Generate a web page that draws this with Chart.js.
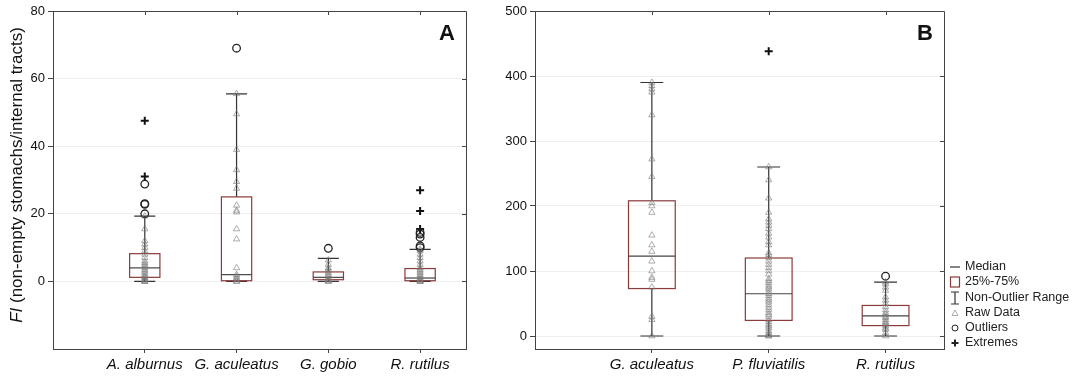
<!DOCTYPE html>
<html>
<head>
<meta charset="utf-8">
<script src="https://cdn.jsdelivr.net/npm/chart.js@4/dist/chart.umd.min.js"></script>
<style>
  body { margin: 0; background: #fff; }
  #wrapA { position: absolute; left: 0; top: 0; width: 480px; height: 377px; }
  #wrapB { position: absolute; left: 480px; top: 0; width: 601px; height: 377px; }
</style>
</head>
<body>
<div id="wrapA"><canvas id="chartA" width="480" height="377"></canvas></div>
<div id="wrapB"><canvas id="chartB" width="601" height="377"></canvas></div>
<script>
// Panel A - FI (non-empty stomachs / internal tracts)
const aCategories = ['A. alburnus', 'G. aculeatus', 'G. gobio', 'R. rutilus'];
const aMin = [0, 0, 0, 0];
const aQ1 = [1.2, 0.2, 0.5, 0.2];
const aMedian = [4, 2, 1.2, 1];
const aQ3 = [8.2, 25, 2.8, 3.8];
const aMax = [19.3, 55.5, 6.8, 9.5];
const aRaw = [
    [0, 0, 0, 0.3, 0.5, 1, 1.2, 1.5, 2, 2.5, 3, 3.5, 4, 4.5, 5, 5.5, 6, 7, 8, 9, 10, 11, 12, 15.5, 19.3],
    [0, 0, 0.5, 1, 1.5, 2, 4, 12.5, 15.5, 20.5, 21, 22.5, 27.5, 29.5, 33, 39, 49.5, 55.5],
    [0, 0, 0.3, 0.5, 1, 1.5, 2, 2.5, 3, 3.5, 4, 5, 6.3],
    [0, 0, 0, 0.3, 0.5, 1, 1.5, 2, 2.5, 3, 3.5, 4, 5, 6, 7, 8, 9, 9.5]
];
const aOutliers = [[20, 22.8, 23, 28.8], [69], [9.8], [10, 10.5, 13, 14, 14.5]];
const aExtremes = [[31, 47.5], [], [], [15.5, 20.8, 27]];
const aYTicks = [0, 20, 40, 60, 80];

// Panel B
const bCategories = ['G. aculeatus', 'P. fluviatilis', 'R. rutilus'];
const bMin = [0, 0, 0];
const bQ1 = [73, 24, 16];
const bMedian = [123, 65, 31];
const bQ3 = [208, 120, 47];
const bMax = [390, 260, 83];
const bRaw = [
    [0, 25, 30, 75, 87, 90, 100, 115, 130, 140, 155, 190, 200, 205, 245, 272, 340, 375, 380, 385, 390],
    [0, 0, 2, 5, 8, 12, 15, 18, 22, 25, 30, 33, 36, 40, 44, 48, 52, 55, 58, 62, 65, 68, 72, 75, 78, 82, 85, 88, 95,
     100, 105, 110, 115, 120, 125, 128, 140, 145, 152, 158, 165, 170, 175, 180, 190, 212, 240, 260],
    [0, 5, 10, 12, 15, 18, 20, 22, 25, 28, 30, 33, 36, 40, 45, 50, 55, 60, 70, 75, 80, 83]
];
const bOutliers = [[], [], [92]];
const bExtremes = [[], [438], []];
const bYTicks = [0, 100, 200, 300, 400, 500];

Chart.defaults.font.family = 'Arial, "Liberation Sans", sans-serif';
Chart.defaults.color = '#222';

function toPoints(lists) {
    return lists.flatMap((vals, i) => vals.map(v => ({ x: i + 1, y: v })));
}

function boxPlugin(stats, half, capHalf, letter, yTitle, legend) {
    return {
        id: 'boxes',
        beforeDatasetsDraw(chart) {
            const { ctx, scales: { x, y } } = chart;
            ctx.save();
            stats.min.forEach((mn, i) => {
                const c = i + 1;
                const cx = x.getPixelForValue(c);
                const l = x.getPixelForValue(c - half), r = x.getPixelForValue(c + half);
                const cl = x.getPixelForValue(c - capHalf), cr = x.getPixelForValue(c + capHalf);
                const pMin = y.getPixelForValue(mn), pMax = y.getPixelForValue(stats.max[i]);
                const pQ1 = y.getPixelForValue(stats.q1[i]), pQ3 = y.getPixelForValue(stats.q3[i]);
                const pMed = y.getPixelForValue(stats.median[i]);
                // whiskers
                ctx.strokeStyle = '#333';
                ctx.lineWidth = 1.2;
                ctx.beginPath();
                ctx.moveTo(cx, pMax); ctx.lineTo(cx, pQ3);
                ctx.moveTo(cx, pQ1); ctx.lineTo(cx, pMin);
                ctx.moveTo(cl, pMax); ctx.lineTo(cr, pMax);
                ctx.moveTo(cl, pMin); ctx.lineTo(cr, pMin);
                ctx.stroke();
                // box
                ctx.strokeStyle = '#8b3a3a';
                ctx.strokeRect(l, pQ3, r - l, pQ1 - pQ3);
                // median
                ctx.strokeStyle = '#444';
                ctx.beginPath();
                ctx.moveTo(l, pMed); ctx.lineTo(r, pMed);
                ctx.stroke();
            });
            ctx.restore();
        },
        afterDraw(chart) {
            const { ctx, chartArea: a, scales: { x, y } } = chart;
            ctx.save();
            // top and right frame with inner ticks
            ctx.strokeStyle = '#444';
            ctx.lineWidth = 1;
            ctx.beginPath();
            ctx.moveTo(a.left, a.top + 0.5); ctx.lineTo(a.right + 0.5, a.top + 0.5); ctx.lineTo(a.right + 0.5, a.bottom);
            x.ticks.forEach(t => {
                const px = Math.round(x.getPixelForValue(t.value)) + 0.5;
                ctx.moveTo(px, a.top); ctx.lineTo(px, a.top + 4);
            });
            y.ticks.forEach(t => {
                const py = Math.round(y.getPixelForValue(t.value)) + 0.5;
                ctx.moveTo(a.right, py); ctx.lineTo(a.right - 4, py);
            });
            ctx.stroke();
            // panel letter
            ctx.fillStyle = '#111';
            ctx.font = 'bold 22px Arial, "Liberation Sans", sans-serif';
            ctx.textAlign = 'center';
            ctx.textBaseline = 'middle';
            ctx.fillText(letter, a.right - 19, a.top + 23);
            // y title with italic FI
            if (yTitle) {
                ctx.translate(17, (a.top + a.bottom) / 2 - 5);
                ctx.rotate(-Math.PI / 2);
                ctx.textAlign = 'left';
                const f1 = 'italic 17px Arial, "Liberation Sans", sans-serif';
                const f2 = '17px Arial, "Liberation Sans", sans-serif';
                ctx.font = f1;
                const w1 = ctx.measureText(yTitle[0]).width;
                ctx.font = f2;
                const w2 = ctx.measureText(yTitle[1]).width;
                let sx = -(w1 + w2) / 2;
                ctx.font = f1;
                ctx.fillText(yTitle[0], sx, 0);
                ctx.font = f2;
                ctx.fillText(yTitle[1], sx + w1, 0);
            }
            ctx.restore();
            if (legend) drawLegend(ctx, a.right + 11, a.right + 21);
        }
    };
}

function drawLegend(ctx, sx, tx) {
    const labels = ['Median', '25%-75%', 'Non-Outlier Range', 'Raw Data', 'Outliers', 'Extremes'];
    const ys = [267, 282, 298, 313, 328, 343];
    ctx.save();
    ctx.font = '12.5px Arial, "Liberation Sans", sans-serif';
    ctx.textBaseline = 'middle';
    ctx.fillStyle = '#222';
    labels.forEach((t, i) => ctx.fillText(t, tx, ys[i]));
    ctx.lineWidth = 1.2;
    // median
    ctx.strokeStyle = '#333';
    ctx.beginPath(); ctx.moveTo(sx - 5, ys[0]); ctx.lineTo(sx + 5, ys[0]); ctx.stroke();
    // box
    ctx.strokeStyle = '#8b3a3a';
    ctx.strokeRect(sx - 4.5, ys[1] - 5, 9, 10);
    // range
    ctx.strokeStyle = '#333';
    ctx.beginPath();
    ctx.moveTo(sx - 4, ys[2] - 6); ctx.lineTo(sx + 4, ys[2] - 6);
    ctx.moveTo(sx, ys[2] - 6); ctx.lineTo(sx, ys[2] + 6);
    ctx.moveTo(sx - 4, ys[2] + 6); ctx.lineTo(sx + 4, ys[2] + 6);
    ctx.stroke();
    // raw data
    ctx.strokeStyle = '#aaa';
    ctx.lineWidth = 1;
    ctx.beginPath(); ctx.moveTo(sx - 3, ys[3] + 2.5); ctx.lineTo(sx, ys[3] - 3); ctx.lineTo(sx + 3, ys[3] + 2.5); ctx.closePath(); ctx.stroke();
    // outlier
    ctx.strokeStyle = '#222';
    ctx.beginPath(); ctx.arc(sx, ys[4], 3, 0, Math.PI * 2); ctx.stroke();
    // extreme
    ctx.lineWidth = 2;
    ctx.beginPath(); ctx.moveTo(sx - 3.5, ys[5]); ctx.lineTo(sx + 3.5, ys[5]); ctx.moveTo(sx, ys[5] - 3.5); ctx.lineTo(sx, ys[5] + 3.5); ctx.stroke();
    ctx.restore();
}

function makeChart(id, cats, stats, raw, outliers, extremes, yMin, yMax, yTicks, opts) {
    const ctx = document.getElementById(id).getContext('2d');
    return new Chart(ctx, {
        type: 'scatter',
        data: {
            datasets: [{
                label: 'Raw Data',
                data: toPoints(raw),
                pointStyle: 'triangle',
                pointRadius: 3.6,
                borderColor: 'rgba(120,120,120,0.6)',
                backgroundColor: 'rgba(0,0,0,0)',
                borderWidth: 1
            }, {
                label: 'Outliers',
                data: toPoints(outliers),
                pointStyle: 'circle',
                pointRadius: 3.8,
                borderColor: '#222',
                backgroundColor: 'rgba(0,0,0,0)',
                borderWidth: 1.3
            }, {
                label: 'Extremes',
                data: toPoints(extremes),
                pointStyle: 'cross',
                pointRadius: 4,
                borderColor: '#111',
                borderWidth: 2
            }]
        },
        options: {
            responsive: false,
            animation: false,
            layout: { padding: { top: 11, right: opts.padRight, left: 0, bottom: 0 } },
            plugins: { legend: { display: false }, tooltip: { enabled: false } },
            scales: {
                x: {
                    type: 'linear',
                    min: 0,
                    max: cats.length + 0.5,
                    afterBuildTicks: s => { s.ticks = cats.map((c, i) => ({ value: i + 1 })); },
                    afterFit: s => { s.height = 28; },
                    ticks: {
                        callback: (v, i) => cats[i],
                        font: { size: 15, style: 'italic' },
                        color: '#111',
                        padding: 3,
                        maxRotation: 0,
                        autoSkip: false
                    },
                    grid: { drawOnChartArea: false, tickLength: 4, tickColor: '#444' },
                    border: { color: '#444' }
                },
                y: {
                    min: yMin,
                    max: yMax,
                    afterBuildTicks: s => { s.ticks = yTicks.map(v => ({ value: v })); },
                    afterFit: s => { s.width = opts.yWidth; },
                    ticks: { font: { size: 13 }, color: '#111', padding: 3 },
                    grid: { color: '#efefef', tickLength: 5, tickColor: '#444' },
                    border: { color: '#444' }
                }
            }
        },
        plugins: [boxPlugin(stats, opts.half, opts.capHalf, opts.letter, opts.yTitle, opts.legend)]
    });
}

makeChart('chartA', aCategories,
    { min: aMin, q1: aQ1, median: aMedian, q3: aQ3, max: aMax },
    aRaw, aOutliers, aExtremes, -20, 80, aYTicks,
    { padRight: 14, yWidth: 53, half: 0.165, capHalf: 0.115, letter: 'A',
      yTitle: ['FI', ' (non-empty stomachs/internal tracts)'], legend: false });

makeChart('chartB', bCategories,
    { min: bMin, q1: bQ1, median: bMedian, q3: bQ3, max: bMax },
    bRaw, bOutliers, bExtremes, -20, 500, bYTicks,
    { padRight: 137, yWidth: 55, half: 0.2, capHalf: 0.098, letter: 'B',
      yTitle: null, legend: true });
</script>
</body>
</html>
